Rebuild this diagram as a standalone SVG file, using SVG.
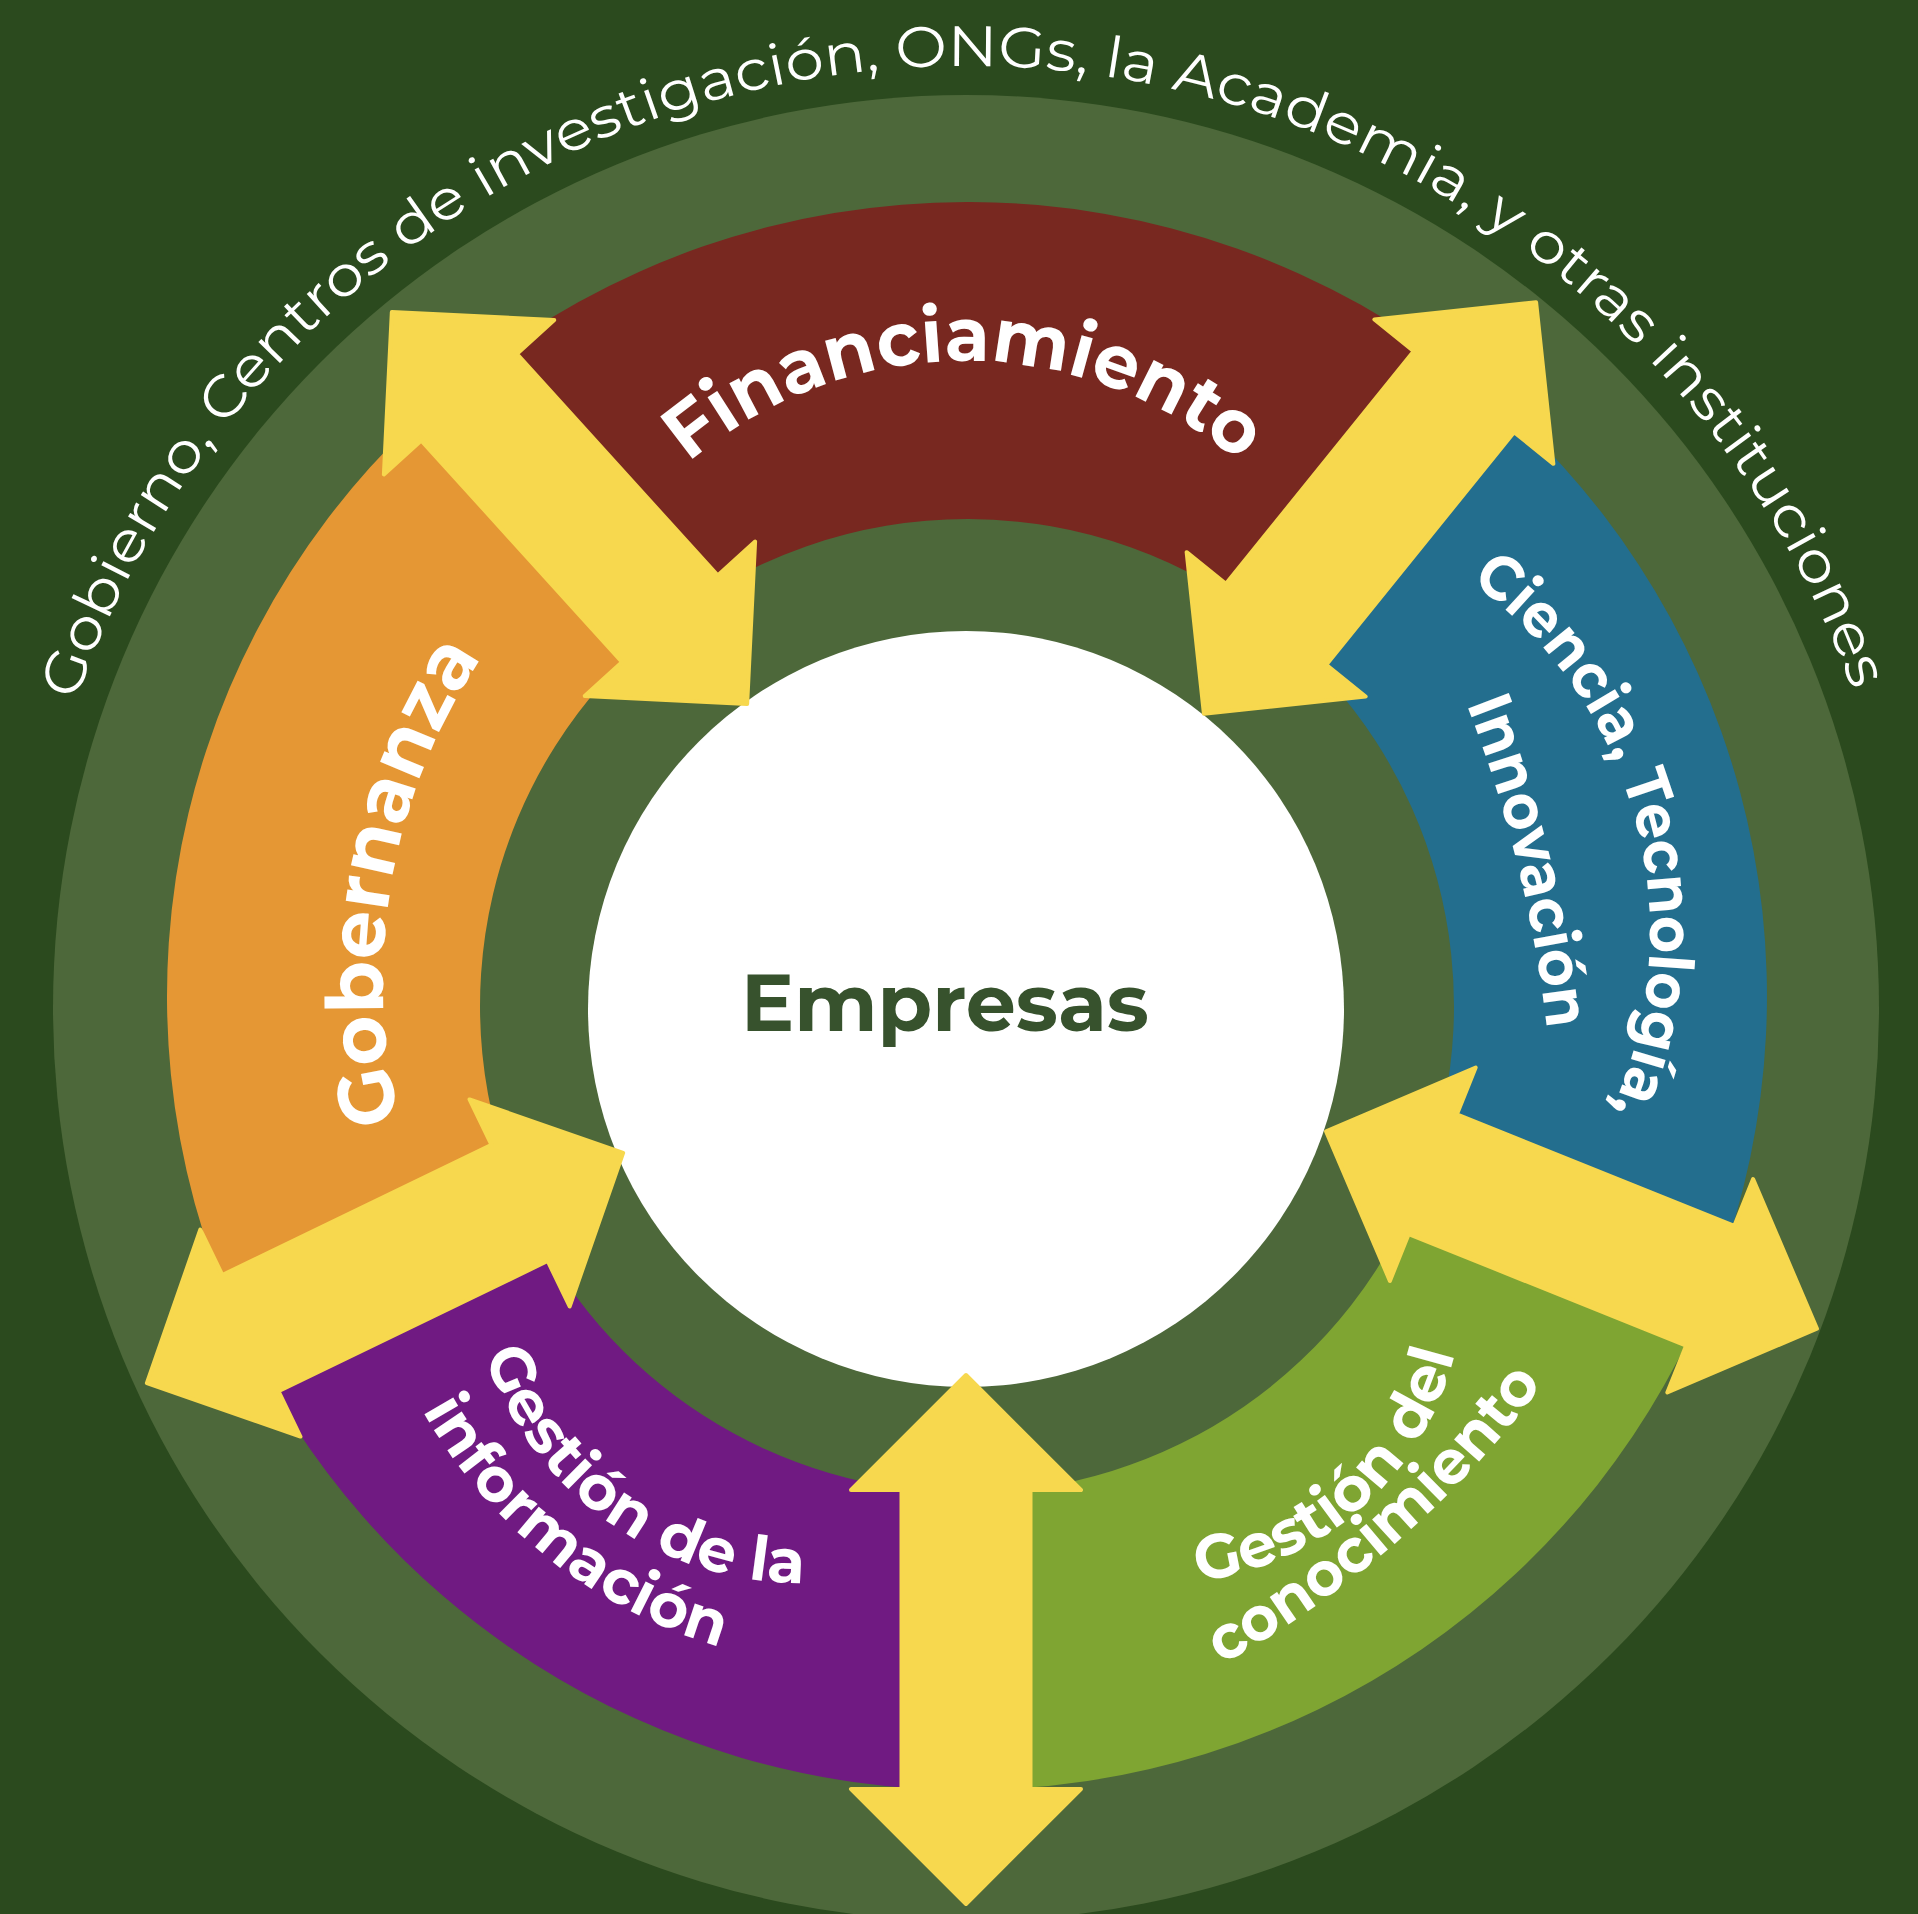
<svg xmlns="http://www.w3.org/2000/svg" xmlns:xlink="http://www.w3.org/1999/xlink" width="1918" height="1914" viewBox="0 0 1918 1914">
<style>
.lbl{font-family:Montserrat,Inter,"Open Sans","DejaVu Sans",sans-serif;font-weight:700;fill:#ffffff}
.outer{font-family:Montserrat,Inter,"Open Sans","DejaVu Sans",sans-serif;font-weight:400;fill:#ffffff;font-size:57px}
.arrow{fill:#f7d84e;stroke:#f7d84e;stroke-width:4;stroke-linejoin:round}
</style>
<defs>
<polygon id="dbl" points="-264.5,0 -149.5,-115 -149.5,-64.5 149.5,-64.5 149.5,-115 264.5,0 149.5,115 149.5,64.5 -149.5,64.5 -149.5,115"/>
<path id="pOuter" d="M 76 701.5 A 941 941 0 0 1 1856 701.5"/>
<path id="pFin" d="M 669.5 480 A 424 424 0 0 1 1258.5 480"/>
<path id="pGob" d="M 418.2 1181.4 A 583 583 0 0 1 519.4 607.2"/>
<path id="pCie1" d="M 1434 557.9 A 432 432 0 0 1 1592.1 1148"/>
<path id="pCie2" d="M 1451 666 A 1300 1300 0 0 1 1551 1070"/>
<path id="pInf1" d="M 474.9 1321.3 A 334 334 0 0 0 838.8 1580.9"/>
<path id="pInf2" d="M 393.1 1348.7 A 503 503 0 0 0 787.1 1661.5"/>
<path id="pCon1" d="M 1144.9 1582.5 A 300 300 0 0 0 1462.5 1301.1"/>
<path id="pCon2" d="M 1161 1695.9 A 1014 1014 0 0 0 1581.9 1327.9"/>
</defs>
<rect width="1918" height="1914" fill="#2b4a1e"/>
<g id="ring">
<circle cx="966" cy="1008" r="913" fill="#4d683a"/>
<text class="outer"><textPath xlink:href="#pOuter" href="#pOuter" startOffset="0" textLength="2322" lengthAdjust="spacingAndGlyphs">Gobierno, Centros de investigación, ONGs, la Academia, y otras instituciones</textPath></text>
</g>
<g id="node-financiamiento">
<path d="M 465.7 377.2 A 800 794 0 0 1 1472.6 380.7 L 1274.8 628.6 A 487 487 0 0 0 661.8 626.5 Z" fill="#782820"/>
<text class="lbl" font-size="76" text-anchor="middle"><textPath xlink:href="#pFin" href="#pFin" startOffset="50%" textLength="600" lengthAdjust="spacingAndGlyphs">Financiamiento</textPath></text>
</g>
<g id="node-ciencia">
<path d="M 1472.6 380.7 A 800 794 0 0 1 1715.3 1276.7 L 1422.5 1178.2 A 487 487 0 0 0 1274.8 628.6 Z" fill="#236e8e"/>
<text class="lbl" font-size="62" text-anchor="middle"><textPath xlink:href="#pCie1" href="#pCie1" startOffset="50%" textLength="592" lengthAdjust="spacingAndGlyphs">Ciencia, Tecnología,</textPath></text>
<text class="lbl" font-size="62" text-anchor="middle"><textPath xlink:href="#pCie2" href="#pCie2" startOffset="50%" textLength="336" lengthAdjust="spacingAndGlyphs">Innovación</textPath></text>
</g>
<g id="node-conocimiento">
<path d="M 1715.3 1276.7 A 800 794 0 0 1 967 1790 L 967 1493 A 487 487 0 0 0 1422.5 1178.2 Z" fill="#7fa532"/>
<text class="lbl" font-size="62" text-anchor="middle"><textPath xlink:href="#pCon1" href="#pCon1" startOffset="50%" textLength="365" lengthAdjust="spacingAndGlyphs">Gestión del</textPath></text>
<text class="lbl" font-size="62" text-anchor="middle"><textPath xlink:href="#pCon2" href="#pCon2" startOffset="50%" textLength="430" lengthAdjust="spacingAndGlyphs">conocimiento</textPath></text>
</g>
<g id="node-informacion">
<path d="M 967 1790 A 800 794 0 0 1 239.6 1326.5 L 524.2 1208.7 A 487 487 0 0 0 967 1493 Z" fill="#701a82"/>
<text class="lbl" font-size="62" text-anchor="middle"><textPath xlink:href="#pInf1" href="#pInf1" startOffset="50%" textLength="420" lengthAdjust="spacingAndGlyphs">Gestión de la</textPath></text>
<text class="lbl" font-size="62" text-anchor="middle"><textPath xlink:href="#pInf2" href="#pInf2" startOffset="50%" textLength="390" lengthAdjust="spacingAndGlyphs">información</textPath></text>
</g>
<g id="node-gobernanza">
<path d="M 239.6 1326.5 A 800 794 0 0 1 465.7 377.2 L 661.8 626.5 A 487 487 0 0 0 524.2 1208.7 Z" fill="#e59734"/>
<text class="lbl" font-size="79" text-anchor="middle"><textPath xlink:href="#pGob" href="#pGob" startOffset="50%" textLength="485" lengthAdjust="spacingAndGlyphs">Gobernanza</textPath></text>
</g>
<g id="node-empresas">
<circle cx="966" cy="1009" r="378" fill="#ffffff"/>
<text x="945" y="1031" font-family="Montserrat,Inter,'Open Sans','DejaVu Sans',sans-serif" font-weight="700" font-size="81" fill="#37522d" text-anchor="middle" textLength="408" lengthAdjust="spacingAndGlyphs">Empresas</text>
</g>
<g id="connectors">
<use href="#dbl" xlink:href="#dbl" class="arrow" transform="translate(569.5 508) rotate(47.8)"/>
<use href="#dbl" xlink:href="#dbl" class="arrow" transform="translate(1370 508) rotate(128.9)"/>
<use href="#dbl" xlink:href="#dbl" class="arrow" transform="translate(385 1268) rotate(-25.8)"/>
<use href="#dbl" xlink:href="#dbl" class="arrow" transform="translate(966 1639.5) rotate(90)"/>
<use href="#dbl" xlink:href="#dbl" class="arrow" transform="translate(1571.5 1230) rotate(21.9)"/>
</g>
</svg>
